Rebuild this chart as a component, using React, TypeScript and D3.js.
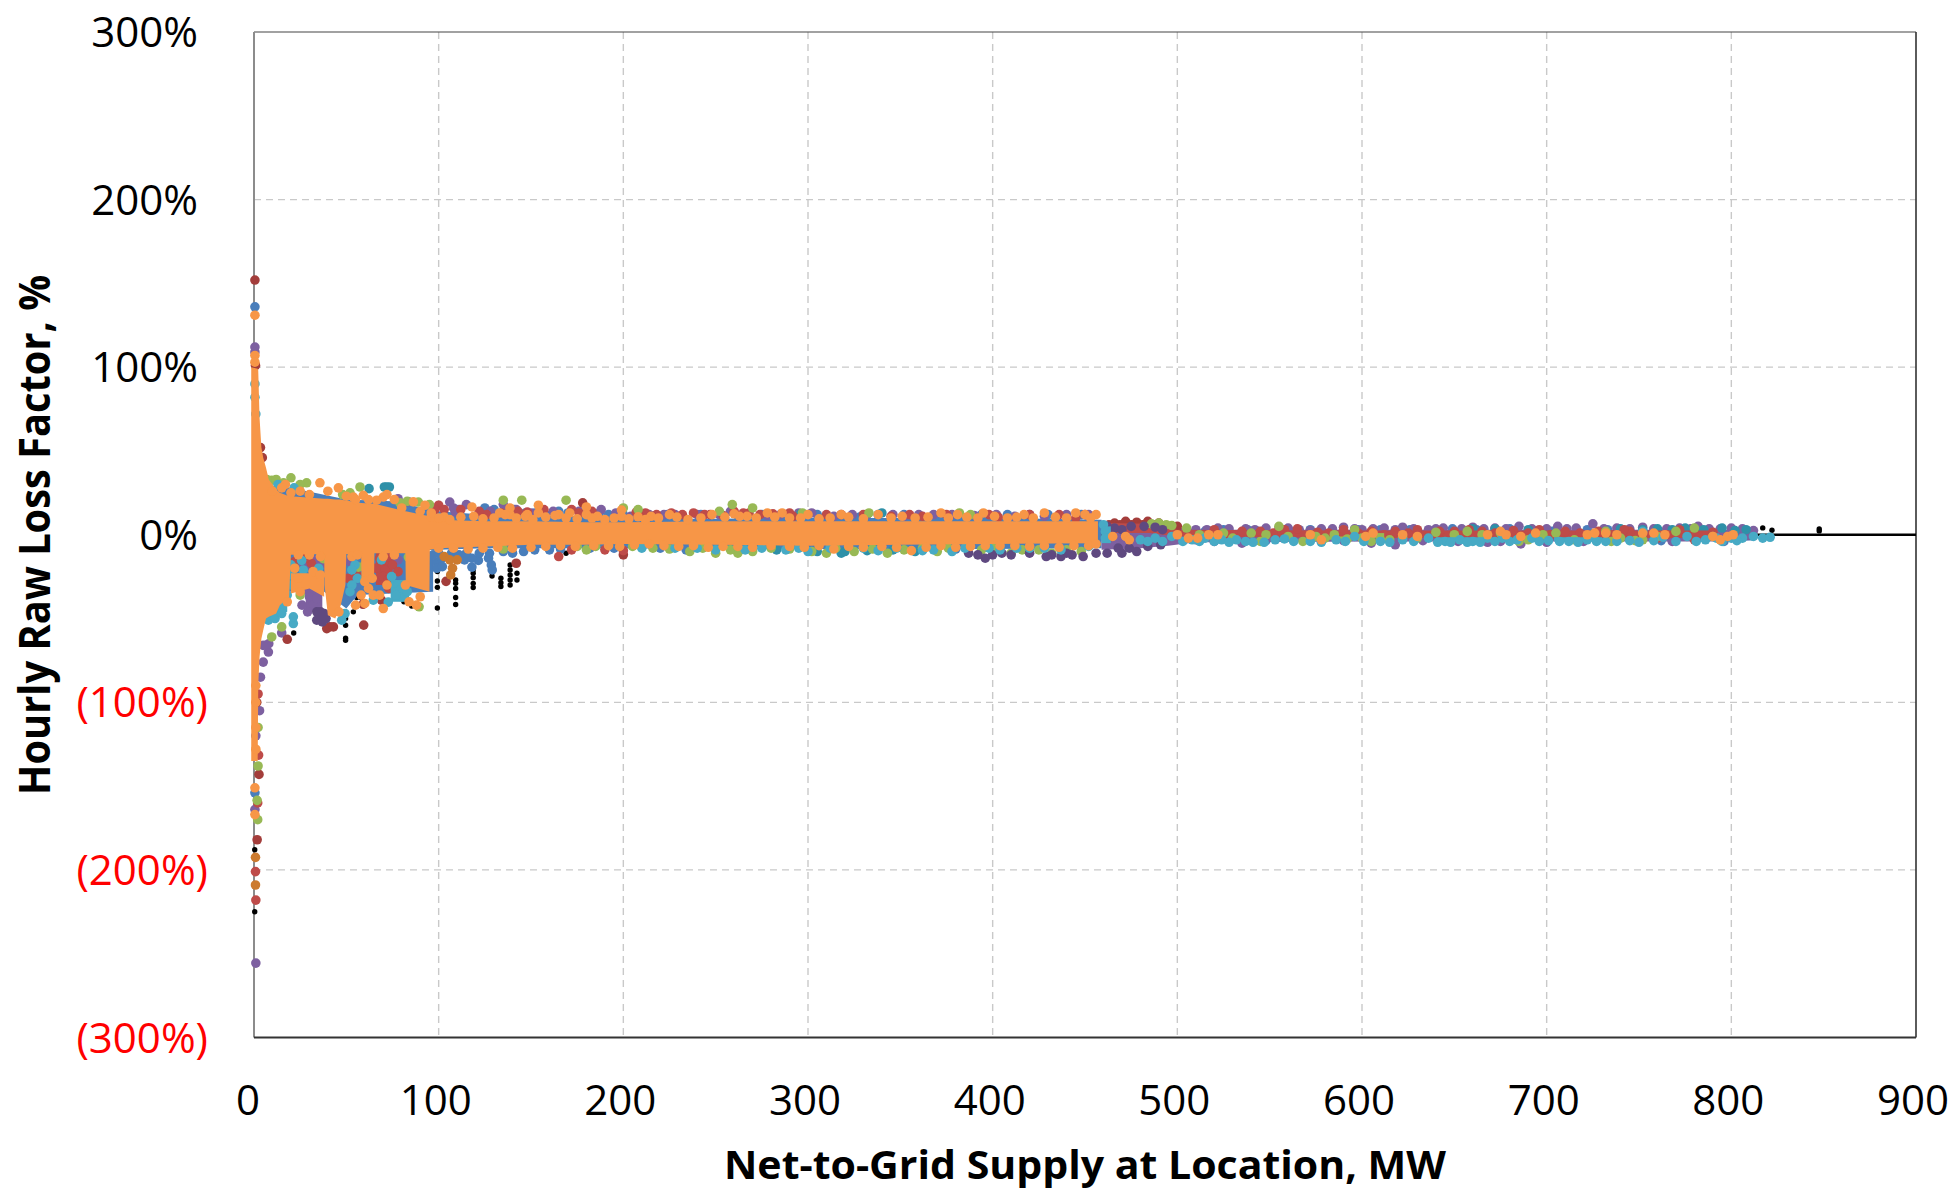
import React from "react";
import * as d3 from "d3";

type P = [number, number];
type B = [number, number, number];

const xTicks = [0, 100, 200, 300, 400, 500, 600, 700, 800, 900];
const yTicks = [300, 200, 100, 0, -100, -200, -300];

// Dense bands: [MW, upper %, lower %]
const blueBands: B[][] = [
  [[4, 30, -10], [20, 28, -11], [50, 21, -11], [75, 20, -10], [100, 14, -9], [125, 12, -8], [180, 11, -8], [200, 9.5, -8], [250, 9.5, -8.5], [300, 10, -8.5], [350, 10, -8.5], [400, 10, -8.5], [459, 9, -8]],
  [[19, -10, -34], [38, -10, -34], [50, -10, -44], [56, -10, -36], [97, -10, -34]],
  [[470, 3, -4], [812, 2.5, -3.5]],
];
const redBands: B[][] = [
  [[66, -11, -30], [75, -11, -30]],
  [[459, 7, 1], [485, 6.5, 1], [500, 3, -1], [600, 2.5, -2], [700, 2.5, -2], [790, 2.5, -2]],
];
const greenBands: B[][] = [
  [[570, -1, -3], [590, -1, -3]],
  [[600, 1, -2], [612, 1, -2]],
];
const purpleBands: B[][] = [
  [[28, -33, -44], [33, -33, -46], [37, -33, -50]],
  [[459, 6, -9], [480, 6, -8], [495, 5, -6.5], [510, 3, -4.5], [600, 3, -4], [700, 3, -4], [800, 3, -4], [812, 2, -3]],
];
const tealBands: B[][] = [
  [[3, -30, -60], [6, -30, -50], [18, -30, -46]],
  [[74, -27, -40], [84, -27, -40]],
  [[459, 5, -5], [464, 5, -5]],
  [[640, -1.5, -4], [668, -1.5, -4]],
  [[704, -1.5, -4], [730, -1.5, -4]],
];
const orangeCore: B[] = [
  [-1.5, 100, -135], [2, 99, -135], [2.3, 98, -90], [3, 70, -73], [4, 52, -62], [5, 46, -57], [6.5, 40, -50], [8, 33, -49], [12, 27, -47], [14, 25, -42], [19, 23, -37], [20, 23, -12],
  [38, 21.5, -11.5], [38.2, 21.5, -30], [40, 21.5, -48], [44, 21, -50], [47, 21, -42], [49.5, 20.5, -30], [50, 20.5, -11.5], [58, 19, -11.5], [58.2, 19, -26], [65, 18.5, -26], [65.2, 18.5, -11],
  [82, 14, -11], [82.2, 14, -30], [95, 11, -34], [95.2, 11, -9], [100, 9, -8], [125, 8, -7], [150, 8, -6], [180, 7.5, -6], [200, 7.5, -5.5], [250, 8, -6], [300, 8, -6.5], [350, 8, -6], [400, 8, -5.5], [457, 8, -5],
];
const orangeLowerPatch: B[] = [[20, -23, -35], [30, -23, -32], [38, -23, -37]];

// Individually readable points: [MW, %]
const blackPts: P[] = [
  [0.4, -188], [0.4, -225], [21.5, -58.6], [49.6, -50], [49.6, -54], [49.6, -61.8], [49.6, -63], [53.8, -46], [55.6, -37.4], [58, -37.6], [81.2, -40], [85.4, -42.5],
  [99.3, -22], [99.3, -27.6], [99.3, -31.4], [99.3, -43.7], [109.2, -27], [109.2, -29], [109.2, -32], [109.2, -37.4], [109.2, -41.6],
  [118.7, -21], [118.7, -23], [118.7, -25.6], [118.7, -29], [118.7, -31.5], [128.9, -24.6], [133.7, -26], [133.7, -28.6], [133.7, -30.9],
  [138.7, -18], [138.7, -21], [138.7, -24], [138.7, -27], [138.7, -30], [142.4, -23], [142.4, -27], [169, -11], [817, 4.1], [822, 2.7], [847.6, 2.3], [847.6, 3.4],
];
const bluePts: P[] = [
  [0.5, 136], [0.5, -154], [53.8, -13], [55.6, -15], [99, -16.3], [101.6, -14.3], [107, -11], [118, -19.3], [121.5, -15.3], [99, -20], [102, -19], [114, -15], [118, -14], [52, -20], [55, -28], [76, -16], [60, -14], [97, -12], [100, -11], [53, -36], [57, -33], [24, -14], [80, -25],
  [127, -14], [128.5, -18], [129, -21], [127.5, -11], [135, -10], [140, -11], [146, -10], [152, -9], [160, -9], [166, -8.5], [115, -11], [122, -11], [111, -12],
  [125, 16], [130, 15], [141, 15], [147, 13], [165, 14], [187, 13], [192, 12], [216, 11], [228, 11], [262, 11.5], [275, 12], [286, 11], [328, 10.5], [371, 10.5], [384, 10], [416, 10],
  [136, 14], [152, 13], [158, 12], [170, 13], [178, 13], [200, 12], [210, 12], [224, 12], [242, 12], [268, 12], [305, 12], [338, 12], [352, 12], [394, 12], [408, 12], [430, 12], [448, 12],
  [182, -8], [195, -8], [220, -8], [234, -9], [270, -8.5], [380, -8.5],
  [452, 7], [500, 1], [525, 3], [548, -3.5], [561, 2], [584, 2.5], [610, 3], [636, 2], [649, 3.5], [680, 3.5], [703, 2], [722, 3], [745, 2.5], [762, -3.5], [778, 1], [796, -4], [515, 2], [538, 3], [572, 3], [598, 3], [626, 3], [662, 3], [692, 3], [733, 3],
];
const darkTealPts: P[] = [
  [70.6, 28.5], [71.8, 28.5], [73.3, 28.5], [62.3, 27.5], [262, 3], [305, -10], [318, -11], [358, -10], [283, -9], [320, -10], [332, -9.5], [346, -9], [296, 12.5], [340, 13], [660, 3.5], [672, 3.5], [690, 3], [740, 3.5], [760, 3.5], [775, 4], [785, 3], [795, 4], [802, 2.5], [808, 3], [752, 3], [768, 3], [780, 3],
];
const purplePts: P[] = [
  [0.5, 112], [0.5, 109], [0.5, -164], [1, -255.6], [1, -120], [3, -105], [28, -33], [30, -37], [32, -42], [29, -46], [34, -38], [26, -42], [33, -15.3], [36.6, -17.3], [30, -18.3], [15, -58.6], [7.8, -70], [8, -65], [5, -66], [62, -14], [78, -15], [52, -16], [90, -14], [27, -13], [3.5, -85], [5, -76], [24, -19], [68, -18],
  [83.6, 19.6], [78, 21.5], [109, 13.6], [111, 15], [106, 19.5], [115, 18], [108, 16], [122, 13], [135, 18], [150, 13], [162, 14], [188, 15], [196, 13], [204, 11], [222, 12], [240, 12], [258, 14], [278, 11.5], [302, 13], [314, 11], [324, 12], [352, 11], [368, 12], [390, 11.5], [412, 11], [428, 11],
  [128, 14], [142, 15], [156, 14], [176, 14], [182, 13], [214, 12], [228, 12], [252, 12], [285, 12], [295, 13], [332, 12], [346, 12], [360, 12], [378, 12], [402, 12], [420, 12], [440, 12], [452, 12],
  [510, 3], [522, 4], [537, 3.5], [548, 4], [560, 4], [572, 2.5], [590, 4.5], [600, 3], [612, 4], [622, 4.5], [636, 3], [644, 4], [660, 4.5], [672, 4], [685, 5], [700, 3.5], [706, 5], [716, 4], [725, 6.5], [738, 4], [752, 4.5], [772, 4], [782, 5], [800, 4], [806, 3.5], [812, 2.5],
  [516, 3], [528, 3.5], [542, 3], [555, 3.5], [566, 3], [578, 3.5], [584, 3.5], [596, 3.5], [606, 3.5], [618, 3], [628, 3.5], [640, 3.5], [654, 3.5], [666, 3.5], [678, 3.5], [692, 3.5], [711, 3.5], [731, 3.5], [745, 3.5], [758, 3.5], [765, 3.5], [778, 3.5], [788, 3.5], [794, 3.5],
  [520, -4], [535, -5], [547, -4], [563, -3], [590, -3.5], [605, -5], [618, -6], [633, -3.5], [652, -4], [668, -4.5], [675, -4], [686, -5.5], [700, -4.5], [720, -4], [768, -4], [510, -3], [555, -1], [600, 0], [645, 0], [680, -2], [715, 0], [745, -1],
];
const darkRedPts: P[] = [
  [0.8, 101], [0.5, 152], [3.5, 52], [4.5, 46], [2.7, -143], [1.7, -182], [1.5, -100], [59.4, -53.9], [41, -55], [39.4, -56], [43, -55], [18, -62.4], [59, -41.5], [69, -39], [104, -27.8], [142, -17], [178, 19], [200, -12],
  [466, 7], [472, 8], [478, 7.5], [484, 8], [490, 7], [500, 5], [463, 6], [469, 6], [475, 6], [481, 6], [487, 6],
];
const redPts: P[] = [
  [0.8, -201], [1, -218], [2, -160], [2.5, -131.5], [2.2, -95], [71, -15], [71, -21], [71, -28], [70, -25], [72.7, -27], [55.6, -24], [31, -17], [66, -20], [75, -18], [68, -14], [73, -32], [22, -16], [51, -26], [28, -14], [78, -22],
  [100, 17.6], [98, 15], [103, 15], [112, 15], [165, -13], [172, 15], [157, 15], [134, 13], [126, 12], [207, 13.5], [212, 13], [232, 12], [238, 13], [247, 12], [254, 11.5], [268, 13], [274, 12], [281, 12.5], [292, 11],
  [122, 14], [143, 14], [148, 13.5], [176, 13], [183, 14], [218, 12], [226, 13], [244, 12], [260, 14], [265, 13], [290, 13], [310, 12], [318, 12], [330, 12], [355, 12], [375, 12], [398, 12], [420, 12], [436, 12], [450, 12],
  [345, 11], [362, 11], [403, 10.5], [445, 10], [200, -9.5], [190, -9], [172, -9],
  [505, 2.5], [520, 3], [535, 2], [552, 1], [565, 3.5], [576, 1.5], [590, 3], [605, 2], [618, 2], [630, 3], [650, 2], [665, 2], [682, 2.5], [696, 3], [710, 2], [728, 2], [745, 2], [752, -1], [765, 0], [772, 3], [760, -2], [780, -3], [790, 1.5],
  [515, 0], [528, -1], [545, 2], [558, 3], [582, 1], [598, 1], [612, 0], [625, 1], [642, 2], [658, 3], [672, 1], [690, 1], [702, 0], [718, 1], [735, 0], [742, 3],
];
const greenPts: P[] = [
  [1.7, -158.5], [2, -170], [2.2, -115], [2.2, -138], [9.6, 32.5], [7, 33], [12, 33], [20, 34], [16, 31], [28.5, 31], [25, 30], [52, 25], [57.4, 28.5], [48, 24], [89, 19.5], [95, 18], [83, 20], [79, 19],
  [56.5, -19.3], [33, -24.2], [37.5, -14.3], [83.6, -13.3], [25, -36], [9.6, -61], [15, -55], [89.4, -43], [22, -20], [60, -18], [135, 20.6], [145, 20.6], [169, 20.6], [200, 16], [208, 15], [252, 14], [259, 18], [270, 16], [297, 13], [333, 13], [382, 13], [388, 12],
  [135, -8.5], [180, -9], [236, -10], [250, -11], [262, -11], [270, -10], [302, -10], [310, -11], [325, -10], [343, -11], [370, -10], [394, -9], [410, -11], [432, -11],
  [175, -7], [185, -7], [205, -7], [216, -8], [225, -8.5], [243, -8], [258, -9], [280, -8], [290, -8.5], [315, -8], [335, -8.5], [352, -9], [362, -8], [376, -8], [400, -8], [416, -9], [425, -9], [440, -9], [448, -10],
  [490, 7], [494, 6], [486, 6.5], [497, 5.5], [505, 4], [530, -2], [540, 1], [555, 5], [575, -1], [585, 0], [568, -4], [596, 3], [615, -3], [630, -2], [657, 2], [665, 0], [690, -3], [705, 1], [725, 0], [740, -2], [752, -3], [770, 2], [780, 4], [790, -1],
  [512, 0], [525, 1], [548, 0], [560, -1], [580, -2], [592, -2.5], [600, -2], [610, -3], [622, -1.5], [640, 1.5], [650, 0], [675, 1], [698, 0], [715, -3], [732, 2], [748, -3.5], [760, -1], [520, -2], [545, -4], [605, -4], [685, -4], [735, -4],
];
const darkPurplePts: P[] = [
  [34, -46], [36, -50], [38, -47], [37, -52], [34, -51], [36, -46], [39, -50],
  [392, -12], [396, -14], [400, -12], [387, -11], [405, -11], [429, -13], [432, -12], [437, -13], [443, -12], [449, -13], [456, -11], [462, -11], [470, -11], [478, -10], [462, 5], [466, 4], [470, 3], [475, 5], [482, 5], [488, 4.5], [492, 3], [410, -12], [420, -11], [440, -11], [468, -8], [474, -8], [484, -7], [491, -6],
];
const tealPts: P[] = [
  [0.5, 90], [0.5, 82], [1, 72], [7.8, -51], [6, -49], [11.4, -50], [21.3, -53], [21.3, -49], [15, -47], [49.3, -47], [47.5, -51], [74.5, -25], [78, -30], [79, -33], [80, -37], [77, -36], [83, -34], [64.6, -39], [72.7, -40.2], [54.7, -18], [53, -21], [53, -30], [25.8, -15.3], [26.7, -21], [18, -36], [20, -30], [28, -29], [69, -15], [20, -18], [20, -24], [52, -34], [56, -26], [35, -20],
  [13, 30], [21.7, 28], [460, 6], [461, 2], [461, -2], [250, -9], [266, -9], [288, -9], [300, -10], [338, -9.5], [362, -9.5], [378, -10], [404, -9], [420, -8], [437, -9],
  [210, -8], [228, -8], [240, -8], [275, -8], [295, -8], [312, -8], [330, -8], [348, -8], [368, -9], [385, -8], [398, -8], [413, -8], [428, -8], [452, -7],
  [480, -3], [488, -2], [497, -1], [508, -3], [515, -2], [524, -3], [532, -3], [541, -4.5], [553, -3], [558, -2.5], [572, -4], [586, -3], [596, -1], [622, -3], [628, -4], [636, -2], [645, -4], [653, -3], [660, -4], [668, -2], [676, -2], [692, -2], [701, -3.5], [712, -4], [722, -3], [732, -4], [745, -3.5], [752, 2], [763, -1.5], [770, -4], [776, -1], [786, -3], [792, -2], [800, -2], [806, -2], [812, -1], [817, -2], [821, -1.5],
  [484, -4], [492, -4], [503, -4], [512, -4], [520, -4], [528, -4.5], [537, -4], [547, -4.5], [563, -4], [578, -4.5], [591, -4], [601, -4], [610, -4], [615, -4.5], [641, -4.5], [648, -4.5], [657, -4.5], [664, -4.5], [672, -4], [680, -4], [684, -3], [696, -4], [707, -4], [717, -4.5], [727, -4], [738, -4], [750, -4.5], [758, -3.5], [781, -4], [795, -4], [803, -3.5],
];
const darkOrangePts: P[] = [
  [103, -13], [106, -15], [110, -15], [107.5, -20], [106.5, -24], [0.8, -192.5], [0.8, -209],
];
const orangePts: P[] = [
  [0.5, 131], [0.5, 107], [0.5, 103], [0.5, -151], [0.5, -167], [1, -128], [1, -115], [1, -100], [1, -90], [17, 30], [35.7, 31], [45.7, 28], [15, 28], [25, 26], [40, 26], [53.8, 22.5], [59.2, 23.5], [70, 22.5], [66.4, 20.6], [92.6, 17.6], [86.3, 19.6], [118, 16.6], [96, 10.6], [103, 10.6], [76, 21], [72, 24],
  [10, 26], [20, 25], [30, 24], [50, 23], [55, 21], [62, 21], [80, 16], [90, 14], [96, 13],
  [138.6, 16], [138.6, 12], [154, 17.6], [154, 13], [180, 16.6], [180, 12], [199, 14.7], [199, 11], [208, 10.7], [215, 11], [225, 12], [133, 13], [148, 12], [165, 12], [171, 13], [186, 11], [248, 12], [260, 12.5], [267, 11], [278, 13], [286, 13], [300, 12], [318, 12], [338, 12], [372, 13], [381, 12], [395, 13], [417, 12], [428, 13], [445, 13], [450, 12], [456, 12],
  [100, 10], [106, 9], [112, 10.5], [119, 11], [124, 9.5], [130, 10], [136, 12], [142, 10], [147, 11], [151, 9], [158, 10.5], [163, 11.5], [169, 10], [175, 9.5], [183, 10], [190, 9], [195, 10], [203, 9.5], [212, 9], [219, 10], [229, 10.5], [235, 9], [242, 10], [255, 10.5], [263, 11], [272, 10], [282, 10.5], [290, 10], [296, 10], [306, 9.5], [312, 10], [322, 10.5], [330, 9.5], [345, 10], [351, 11], [358, 10], [365, 10.5], [376, 10], [386, 10.5], [392, 10], [401, 11], [408, 10], [413, 10.5], [422, 10], [434, 10.5], [440, 10], [453, 10],
  [100, -8], [108, -8], [116, -8.5], [124, -8], [132, -7.5], [140, -8], [150, -7.5], [158, -7], [166, -6.5], [174, -7], [184, -6.5], [192, -6.5], [198, -7], [206, -6], [214, -5.5], [222, -6.5], [230, -7], [238, -6.5], [246, -7.5], [254, -7], [262, -7], [270, -7.5], [280, -6.5], [290, -7], [298, -7.5], [306, -6.5], [314, -8.5], [322, -7], [330, -7.5], [340, -7], [348, -7.5], [356, -9.5], [364, -7.5], [372, -6.5], [380, -7.5], [388, -7], [396, -6.5], [404, -6.5], [412, -6.5], [420, -7], [428, -6.5], [436, -7.5], [444, -6.5], [452, -6.5], [456, -5.5],
  [60, -41], [58, -36], [62, -32], [64.6, -36], [70, -44], [55, -42], [84, -40], [90, -37], [88, -42], [24, -26], [22, -20], [72, -30], [46, -46], [18, -40], [25, -34], [60, -28], [64, -26], [82, -30], [68, -36], [32, -22], [36, -24], [24, -12], [30, -12], [36, -13], [53, -13], [56, -12], [70, -13], [76, -12],
  [465, -1], [472, -1], [474, -3], [500, 0], [506, -2], [511, -2], [517, 0], [522, 0], [572, 0], [578, -3], [602, -1], [606, 1], [622, 0], [630, -1], [668, 0], [675, 2], [678, 0], [686, -1], [694, 1], [722, 0], [726, 1], [732, 1], [738, 0], [752, 1], [758, 1], [764, 0], [790, -1], [794, -3], [798, -1], [801, 0],
];

const W = 1953, H = 1191;
const x = d3.scaleLinear().domain([0, 900]).range([254, 1916]);
const y = d3.scaleLinear().domain([300, -300]).range([32, 1037.5]);
const area = d3.area<B>().x((d) => x(d[0])).y0((d) => y(d[2])).y1((d) => y(d[1])).curve(d3.curveLinear);

const layers: { color: string; bands?: B[][]; pts: P[]; r?: number }[] = [
  { color: "#000000", pts: blackPts, r: 2.7 },
  { color: "#4A7EBB", bands: blueBands, pts: bluePts },
  { color: "#7D60A0", bands: purpleBands, pts: purplePts },
  { color: "#2F90A8", pts: darkTealPts },
  { color: "#A33D3A", pts: darkRedPts },
  { color: "#BE4B48", bands: redBands, pts: redPts },
  { color: "#98B954", bands: greenBands, pts: greenPts },
  { color: "#5F4A80", pts: darkPurplePts },
  { color: "#46AAC5", bands: tealBands, pts: tealPts },
  { color: "#CC7A2F", pts: darkOrangePts },
  { color: "#F79646", bands: [orangeCore, orangeLowerPatch], pts: orangePts },
];

const fmtY = (v: number) => (v < 0 ? `(${-v}%)` : `${v}%`);
const font = "'Open Sans', sans-serif";

export default function App() {
  return (
    <svg width={W} height={H} viewBox={`0 0 ${W} ${H}`} style={{ position: "absolute", left: 0, top: 0, background: "#fff" }}>
      <defs>
        <filter id="soft" x="-2%" y="-2%" width="104%" height="104%">
          <feGaussianBlur stdDeviation="0.7" />
        </filter>
      </defs>
      <g stroke="#C9C9C9" strokeWidth={1.4} strokeDasharray="7 5" fill="none">
        {xTicks.slice(1, -1).map((t) => <line key={t} x1={x(t)} x2={x(t)} y1={y(300)} y2={y(-300)} />)}
        {yTicks.filter((t) => t !== 0 && Math.abs(t) !== 300).map((t) => <line key={t} x1={x(0)} x2={x(900)} y1={y(t)} y2={y(t)} />)}
      </g>
      <line x1={x(0)} x2={x(900)} y1={y(300)} y2={y(300)} stroke="#444" strokeWidth={1.2} />
      <line x1={x(900)} x2={x(900)} y1={y(300)} y2={y(-300)} stroke="#333" strokeWidth={1.6} />
      <line x1={x(0)} x2={x(0)} y1={y(300)} y2={y(-300)} stroke="#8C8C8C" strokeWidth={2} />
      <line x1={x(0)} x2={x(900)} y1={y(-300)} y2={y(-300)} stroke="#333" strokeWidth={2} />
      <line x1={x(0)} x2={x(900)} y1={y(0)} y2={y(0)} stroke="#000" strokeWidth={2.4} />
      <g filter="url(#soft)">
        {layers.map((l, i) => (
          <g key={i} fill={l.color}>
            {(l.bands || []).map((b, j) => <path key={j} d={area(b) || ""} />)}
            {l.pts.map((p, j) => <circle key={j} cx={x(p[0])} cy={y(p[1])} r={l.r ?? 4.8} />)}
          </g>
        ))}
      </g>
      <g fontFamily={font} fontSize={42}>
        {yTicks.map((t) => (
          <text key={t} x={t < 0 ? 208 : 198} y={y(t) + 15} textAnchor="end" fill={t < 0 ? "#FF0000" : "#000"}>{fmtY(t)}</text>
        ))}
        {xTicks.map((t) => (
          <text key={t} x={x(t) - (t === 0 ? 6 : 3)} y={1115} textAnchor="middle" fill="#000">{t}</text>
        ))}
      </g>
      <text x={724} y={1179} fontFamily={font} fontSize={40} fontWeight={700} textLength={722} lengthAdjust="spacingAndGlyphs" fill="#000">Net-to-Grid Supply at Location, MW</text>
      <text transform="translate(50,795) rotate(-90)" fontFamily={font} fontSize={43} fontWeight={700} textLength={520} lengthAdjust="spacingAndGlyphs" fill="#000">Hourly Raw Loss Factor, %</text>
    </svg>
  );
}
